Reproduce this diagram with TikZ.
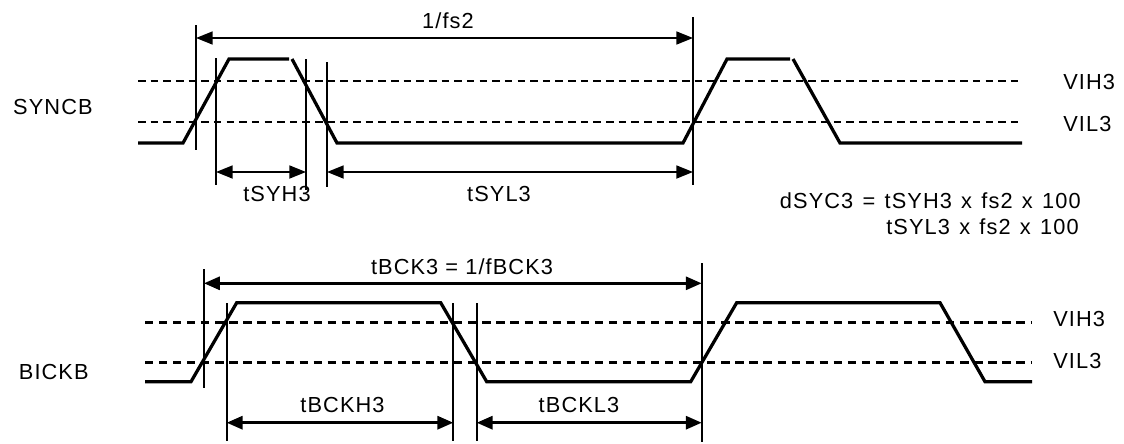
\documentclass[tikz,border=0pt]{standalone}
\usepackage{fontspec}
\setmainfont{Liberation Sans}[LetterSpace=5]
\newfontfamily\eqfont{Liberation Sans}[LetterSpace=5, WordSpace=1.3]
\usetikzlibrary{arrows.meta}
\begin{document}
\begin{tikzpicture}[x=0.02cm,y=-0.02cm,
  wave/.style={line width=1.85pt, line join=miter},
  thrA/.style={line width=0.75pt, dash pattern=on 4.3pt off 2.9pt},
  thrB/.style={line width=1.45pt, dash pattern=on 4.7pt off 3.3pt},
  vlineA/.style={line width=0.8pt},
  vlineB/.style={line width=0.95pt},
  dimA/.style={line width=1.0pt, {Triangle[length=9.5pt,width=7.4pt]}-{Triangle[length=9.5pt,width=7.4pt]}},
  dimB/.style={line width=1.6pt, {Triangle[length=9pt,width=7.4pt]}-{Triangle[length=9pt,width=7.4pt]}},
  lbl/.style={font=\fontsize{12.4pt}{14.5pt}\selectfont, inner sep=0pt},
  eqlbl/.style={font=\eqfont\fontsize{12.4pt}{14.5pt}\selectfont, inner sep=0pt},
]
\useasboundingbox (0,0) rectangle (1124,443);

% ---------------- SYNCB ----------------
\node[lbl, anchor=east] (syncb) at (93,107) {SYNCB};
\draw[thrA] (138,81) -- (1022,81);
\draw[thrA] (138,122) -- (1022,122);
\node[lbl, anchor=west] (vihA) at (1063,82) {VIH3};
\node[lbl, anchor=west] (vilA) at (1063,124) {VIL3};

\draw[wave] (138,143) -- (183,143) -- (229,59) -- (289,59);
\draw[wave] (292,59) -- (337,143) -- (683,143) -- (727,59) -- (790,59);
\draw[wave] (793,59) -- (840,143) -- (1022,143);

% vertical marker lines
\coordinate (a1t) at (196,25);  \coordinate (a1b) at (196,150);
\coordinate (a2t) at (216,58);  \coordinate (a2b) at (216,185);
\coordinate (a3t) at (306,59);  \coordinate (a3b) at (306,190);
\coordinate (a4t) at (327,62);  \coordinate (a4b) at (327,187);
\coordinate (a5t) at (693,17);  \coordinate (a5b) at (693,185);
\foreach \n in {1,...,5} \draw[vlineA] (a\n t) -- (a\n b);

% dimension arrows
\coordinate (fsL) at (196,38);  \coordinate (fsR) at (693,38);
\coordinate (shL) at (216,172); \coordinate (shR) at (306,172);
\coordinate (slL) at (327,172); \coordinate (slR) at (693,172);
\draw[dimA] (fsL) -- (fsR);
\draw[dimA] (shL) -- (shR);
\draw[dimA] (slL) -- (slR);
\node[lbl] (tfs) at (448,21) {1/fs2};
\node[lbl] (tsyh) at (277,194) {tSYH3};
\node[lbl] (tsyl) at (499,194) {tSYL3};

\node[eqlbl, anchor=east] (eq1) at (1081,201) {dSYC3 = tSYH3 x fs2 x 100};
\node[eqlbl, anchor=east] (eq2) at (1079,227) {tSYL3 x fs2 x 100};

% ---------------- BICKB ----------------
\node[lbl, anchor=east] (bickb) at (89,372) {BICKB};
\draw[thrB] (145,322.5) -- (1032,322.5);
\draw[thrB] (145,362.3) -- (1032,362.3);
\node[lbl, anchor=west] (vihB) at (1053,319) {VIH3};
\node[lbl, anchor=west] (vilB) at (1053,361) {VIL3};

\draw[wave] (145,381.7) -- (191,381.7) -- (236.7,302.7) -- (440.7,302.7) -- (486.7,381.7)
  -- (690.7,381.7) -- (736.7,302.7) -- (940,302.7) -- (985,381.7) -- (1032,381.7);

\coordinate (b1t) at (204,269);   \coordinate (b1b) at (204,388);
\coordinate (b2t) at (226.7,303); \coordinate (b2b) at (226.7,441);
\coordinate (b3t) at (453.3,303); \coordinate (b3b) at (453.3,441);
\coordinate (b4t) at (476.7,303); \coordinate (b4b) at (476.7,441);
\coordinate (b5t) at (701.7,263); \coordinate (b5b) at (701.7,442);
\foreach \n in {1,...,5} \draw[vlineB] (b\n t) -- (b\n b);

\coordinate (bkL) at (204,283.3);   \coordinate (bkR) at (701.7,283.3);
\coordinate (bhL) at (226.7,422.7); \coordinate (bhR) at (453.3,422.7);
\coordinate (blL) at (476.7,422.7); \coordinate (blR) at (701.7,422.7);
\draw[dimB] (bkL) -- (bkR);
\draw[dimB] (bhL) -- (bhR);
\draw[dimB] (blL) -- (blR);
\node[lbl] (tbck) at (462,267) {tBCK3 = 1/fBCK3};
\node[lbl] (tbckh) at (342.5,405) {tBCKH3};
\node[lbl] (tbckl) at (579,405) {tBCKL3};
\end{tikzpicture}
\end{document}
